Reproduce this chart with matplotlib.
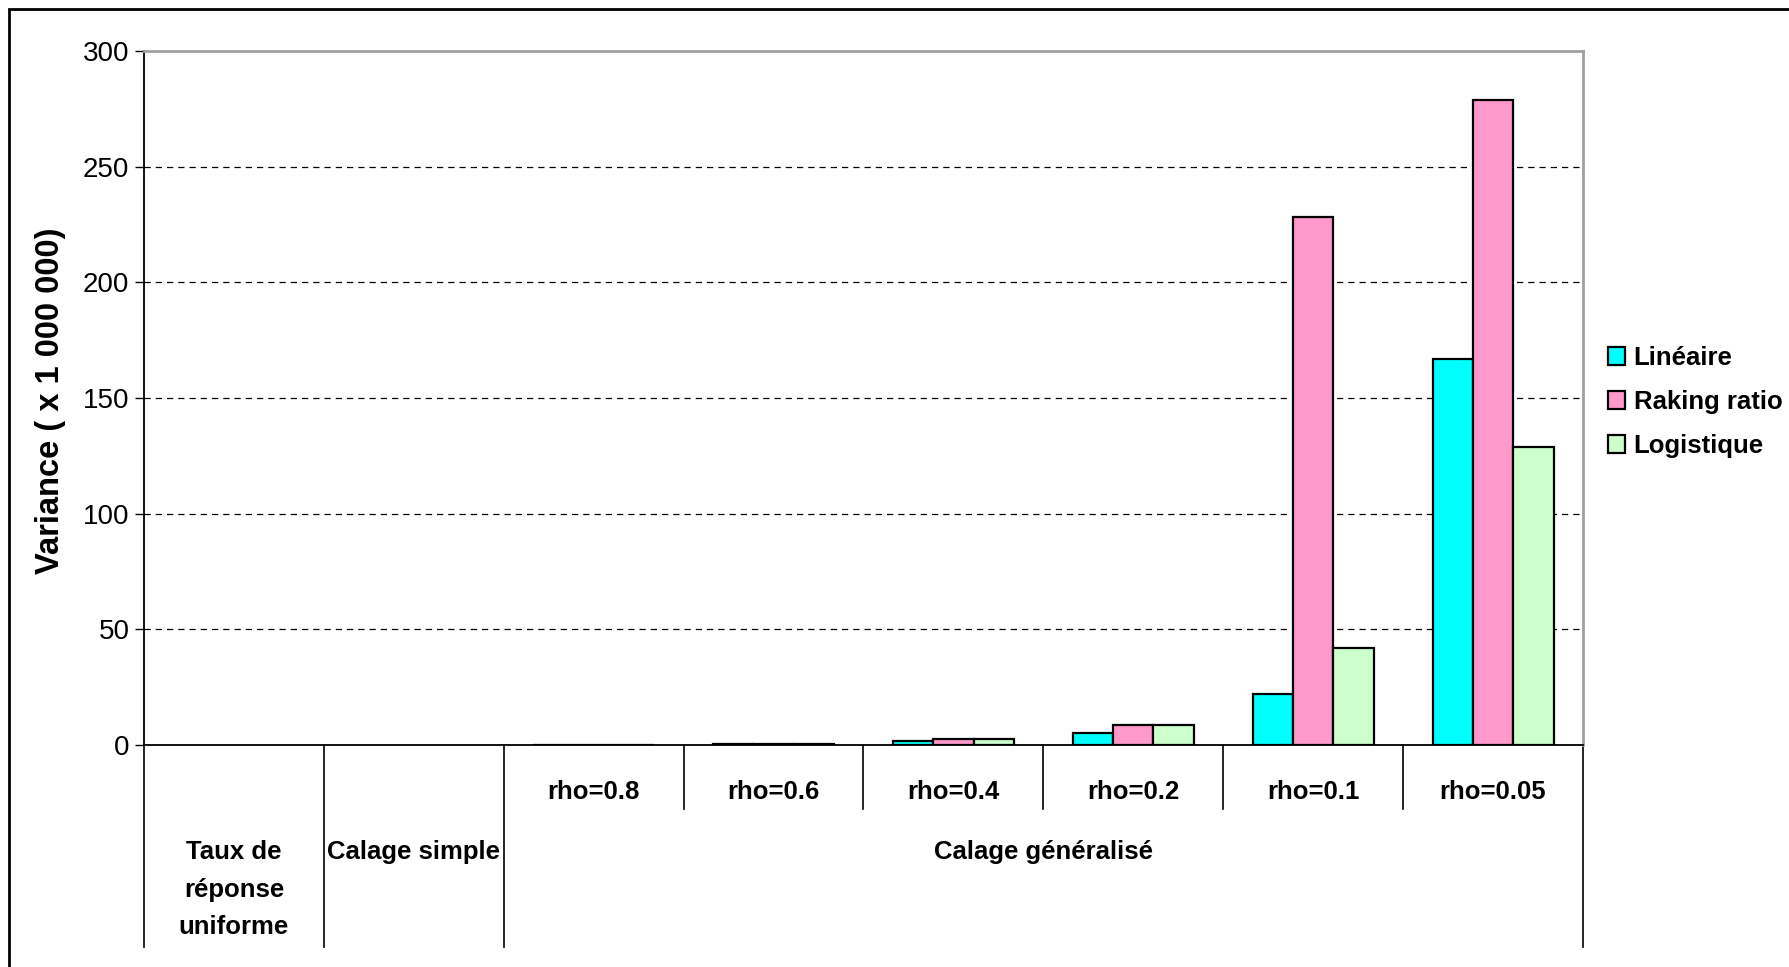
import numpy as np
import matplotlib
matplotlib.use("Agg")
import matplotlib.pyplot as plt
from matplotlib.patches import Rectangle

plt.rcParams['font.family'] = ['Liberation Sans', 'DejaVu Sans']

# Categories (first level and grouping level)
categories = ["", "", "rho=0.8", "rho=0.6", "rho=0.4", "rho=0.2", "rho=0.1", "rho=0.05"]
groups = ["Taux de\nréponse\nuniforme", "Calage simple", "Calage généralisé"]
group_spans = [(0, 0), (1, 1), (2, 7)]

series_names = ["Linéaire", "Raking ratio", "Logistique"]
lineaire = [np.nan, np.nan, 0.05, 0.4, 1.6, 5.2, 22.2, 166.7]
raking = [np.nan, np.nan, 0.05, 0.5, 2.8, 8.6, 228.4, 278.7]
logistique = [np.nan, np.nan, 0.05, 0.5, 2.7, 8.6, 41.9, 128.8]
colors = ["#00FFFF", "#FF99CC", "#CCFFCC"]

yticks = [0, 50, 100, 150, 200, 250, 300]

W, H = 1790, 967
fig = plt.figure(figsize=(W / 100, H / 100), dpi=100)
ax = fig.add_axes([144 / W, 1 - 745 / H, (1583 - 144) / W, (745 - 51) / H])

x = np.arange(len(categories))
bw = 0.224
for i, (vals, name, c) in enumerate(zip([lineaire, raking, logistique], series_names, colors)):
    ax.bar(x + (i - 1) * bw, vals, width=bw, color=c, edgecolor="black",
           linewidth=1.6, label=name, zorder=3)

ax.set_xlim(-0.5, len(categories) - 0.5)
ax.set_ylim(0, 300)
ax.set_yticks(yticks)
ax.set_yticklabels([str(t) for t in yticks], fontsize=20)
ax.tick_params(axis="y", direction="out", length=6.5, width=1, pad=4, color="black")
ax.tick_params(axis="x", length=0, labelbottom=False)

for t in yticks[1:-1]:
    ax.axhline(t, color="black", linewidth=0.9, linestyle=(0, (5, 4)), zorder=1)

for side in ["top", "right"]:
    ax.spines[side].set_color("#a0a0a0")
    ax.spines[side].set_linewidth(2)
ax.spines["left"].set_linewidth(1.3)
ax.spines["bottom"].set_linewidth(1.3)

# Multi-level category axis
trans = ax.get_xaxis_transform()
outer = [-0.5, 0.5, 1.5, 7.5]
inner = [2.5, 3.5, 4.5, 5.5, 6.5]
for b in outer:
    ax.plot([b, b], [0, -0.291], transform=trans, color="black", lw=1.2,
            clip_on=False, zorder=2)
for b in inner:
    ax.plot([b, b], [0, -0.092], transform=trans, color="black", lw=1.2,
            clip_on=False, zorder=2)

for xi, lab in zip(x, categories):
    if lab:
        ax.text(xi, -0.068, lab, transform=trans, ha="center", va="center",
                fontsize=18.5, fontweight="bold")

for lab, (a, b) in zip(groups, group_spans):
    ax.text((a + b) / 2, -0.137, lab, transform=trans, ha="center", va="top",
            fontsize=18.5, fontweight="bold", linespacing=1.72)

fig.text(51 / W, 1 - 401 / H, "Variance ( x 1 000 000)", rotation=90,
         ha="center", va="center", fontsize=23.5, fontweight="bold")

leg = fig.legend(loc="center left", bbox_to_anchor=(1608 / W, 1 - 402 / H),
                 frameon=False, prop={"size": 18.5, "weight": "bold"},
                 handlelength=0.65, handleheight=0.65, handletextpad=0.35,
                 labelspacing=0.78, borderpad=0, borderaxespad=0)
for h in leg.legend_handles:
    h.set_linewidth(1.6)

# Outer frame of the figure
fig.patches.append(Rectangle((9 / W, -0.1), 1.2, 1.1 - 9 / H, transform=fig.transFigure,
                             fill=False, edgecolor="black", linewidth=2))

fig.savefig("out.png", dpi=100)
